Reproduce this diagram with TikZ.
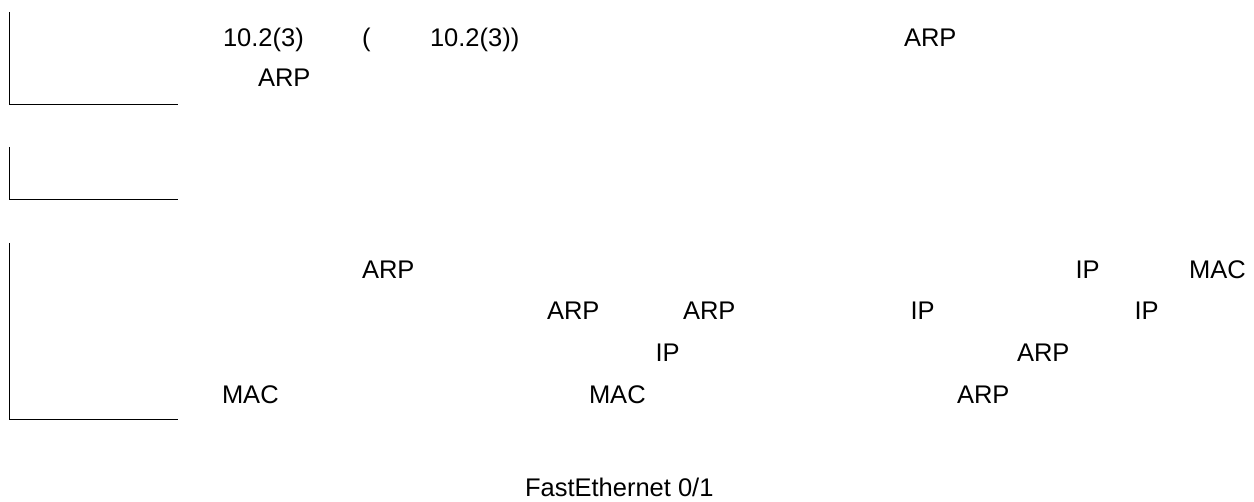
\documentclass[tikz,border=0pt]{standalone}
\usepackage{fontspec}
\setmainfont{Liberation Sans}
\begin{document}
\begin{tikzpicture}[x=1pt,y=-1pt,
  txt/.style={anchor=base west,inner sep=0pt,outer sep=0pt,font=\fontsize{25.5}{30}\selectfont},
  rule/.style={line width=1pt,black}]
\useasboundingbox (0,0) rectangle (1254,502);
% brackets
\draw[rule] (9.5,12) -- (9.5,105) -- (178,105);
\draw[rule] (9.5,147) -- (9.5,200) -- (178,200);
\draw[rule] (9.5,243) -- (9.5,420) -- (178,420);
% block 1
\node[txt] (a1) at (223,47) {10.2(3)};
\node[txt] (a2) at (362,47) {(};
\node[txt] (a3) at (430,47) {10.2(3))};
\node[txt] (a4) at (904,47) {ARP};
\node[txt] (b1) at (258,87) {ARP};
% block 3
\node[txt] (c1) at (362,279) {ARP};
\node[txt] (c2) at (1075.5,279) {IP};
\node[txt] (c3) at (1189,279) {MAC};
\node[txt] (d1) at (547,320) {ARP};
\node[txt] (d2) at (683,320) {ARP};
\node[txt] (d3) at (910.5,320) {IP};
\node[txt] (d4) at (1134.5,320) {IP};
\node[txt] (e1) at (655.5,362) {IP};
\node[txt] (e2) at (1017,362) {ARP};
\node[txt] (f1) at (222,404) {MAC};
\node[txt] (f2) at (589,404) {MAC};
\node[txt] (f3) at (957,404) {ARP};
\node[txt] (g1) at (525,497) {FastEthernet 0/1};
\end{tikzpicture}
\end{document}
